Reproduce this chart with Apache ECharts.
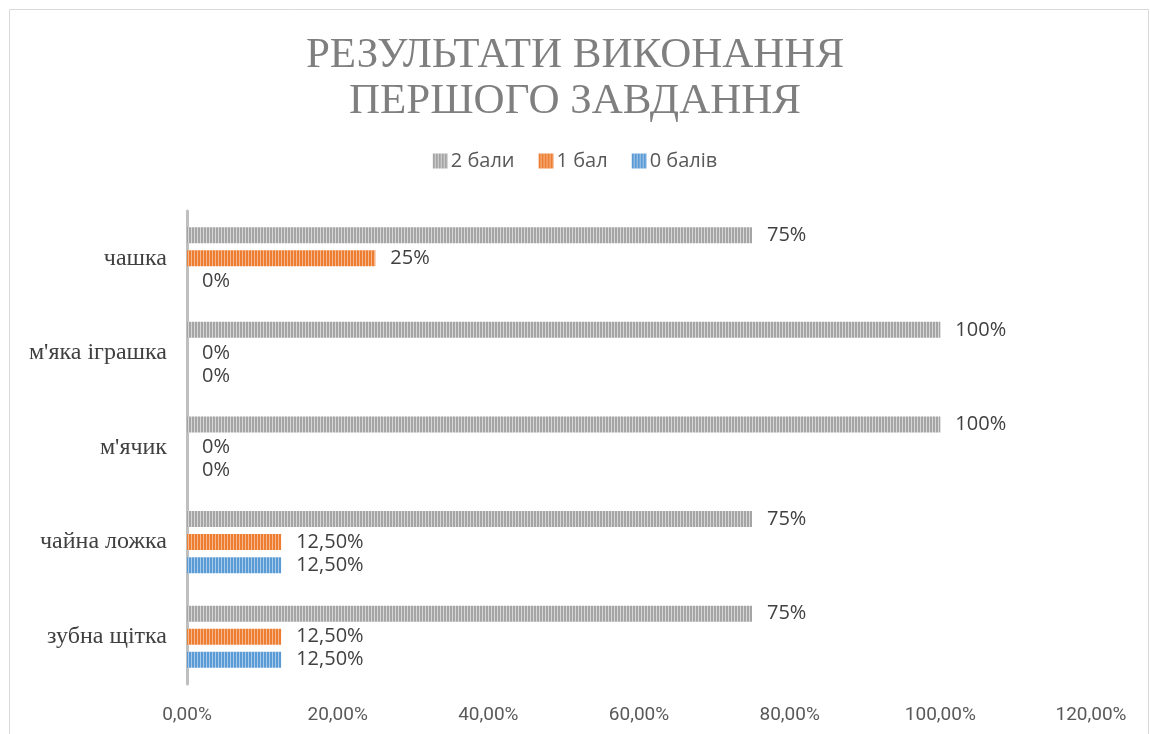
<!DOCTYPE html>
<html>
<head>
<meta charset="utf-8">
<script src="https://cdn.jsdelivr.net/npm/echarts@6/dist/echarts.min.js"></script>
<style>
  html, body { margin: 0; padding: 0; background: #fff; }
  #chart { width: 1150px; height: 734px; }
</style>
</head>
<body>
<div id="chart"></div>
<script>
// categories bottom -> top (y category axis starts at the bottom)
var categories = ['зубна щітка', 'чайна ложка', "м'ячик", "м'яка іграшка", 'чашка'];
var seriesNames = ['2 бали', '1 бал', '0 балів'];
var twoPoints = [75, 75, 100, 100, 75];
var onePoint = [12.5, 12.5, 0, 0, 25];
var zeroPoints = [12.5, 12.5, 0, 0, 0];
var xTicks = [0, 20, 40, 60, 80, 100, 120];

// vertical stripe pattern like the Excel fill
function stripes(dark, light) {
  var c = document.createElement('canvas');
  c.width = 3; c.height = 4;
  var ctx = c.getContext('2d');
  ctx.fillStyle = dark;
  ctx.fillRect(0, 0, 3, 4);
  ctx.fillStyle = light;
  ctx.fillRect(2, 0, 1, 4);
  return { image: c, repeat: 'repeat' };
}

var fills = [
  stripes('#a5a5a5', '#d6d6d6'),
  stripes('#ed7d31', '#f6b98f'),
  stripes('#5b9bd5', '#a9cbeb')
];

function fmt(v) {
  if (v % 1 === 0) return v + '%';
  return v.toFixed(2).replace('.', ',') + '%';
}

var myChart = echarts.init(document.getElementById('chart'));
var dataSets = [twoPoints, onePoint, zeroPoints];
var series = [];
for (var i = 0; i < dataSets.length; i++) {
  series.push({
    type: 'bar',
    name: seriesNames[i],
    data: dataSets[i],
    barWidth: 16,
    barGap: '44%',
    itemStyle: { color: fills[i] },
    label: {
      show: true,
      position: 'right',
      distance: 15,
      color: '#404040',
      fontSize: 20,
      fontFamily: 'Open Sans',
      formatter: function (p) { return fmt(p.value); }
    }
  });
}

var option = {
  animation: false,
  title: {
    text: 'РЕЗУЛЬТАТИ ВИКОНАННЯ\nПЕРШОГО ЗАВДАННЯ',
    left: 'center',
    top: 28,
    textStyle: {
      fontFamily: 'Liberation Serif',
      fontWeight: 'normal',
      fontSize: 43,
      lineHeight: 46,
      color: '#7f7f7f'
    }
  },
  legend: {
    data: seriesNames,
    top: 146,
    left: 'center',
    itemWidth: 15,
    itemHeight: 15,
    itemGap: 24,
    icon: 'rect',
    textStyle: { fontFamily: 'Open Sans', fontSize: 20, color: '#595959', padding: [0, 0, 0, -2] }
  },
  grid: {
    left: 187,
    right: 59,
    top: 211,
    bottom: 50
  },
  xAxis: {
    type: 'value',
    min: 0,
    max: 120,
    interval: 20,
    axisLine: { show: false },
    axisTick: { show: false },
    splitLine: { show: false },
    axisLabel: {
      margin: 22,
      fontFamily: 'Roboto',
      fontSize: 19,
      color: '#595959',
      formatter: function (v) {
        return xTicks.indexOf(v) >= 0 ? v.toFixed(2).replace('.', ',') + '%' : '';
      }
    }
  },
  yAxis: {
    type: 'category',
    data: categories,
    axisLine: { show: true, lineStyle: { color: '#bfbfbf', width: 3 } },
    axisTick: { show: false },
    axisLabel: {
      margin: 20,
      fontFamily: 'Liberation Serif',
      fontSize: 24,
      color: '#404040'
    }
  },
  graphic: [{
    type: 'rect',
    shape: { x: 9.5, y: 9.5, width: 1139, height: 730 },
    style: { fill: 'none', stroke: '#d9d9d9', lineWidth: 1 },
    silent: true
  }],
  series: series
};

myChart.setOption(option);
window.onresize = function () {
  myChart.resize();
};
</script>
</body>
</html>
